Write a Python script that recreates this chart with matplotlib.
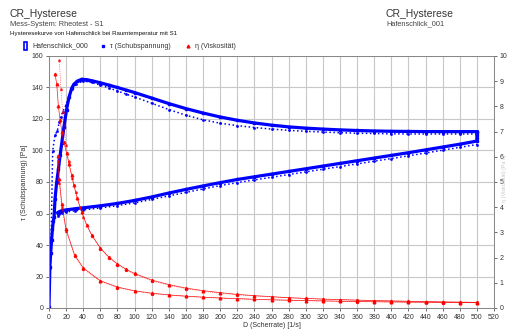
import matplotlib
matplotlib.use("Agg")
import matplotlib.pyplot as plt
from matplotlib.lines import Line2D
from matplotlib.patches import Rectangle

plt.rcParams['font.family'] = ['Liberation Sans', 'DejaVu Sans']

# --- data ---------------------------------------------------------------
# run A (bold markers), ramp up
d_up_a = [0, 1, 2, 3, 4, 5, 6, 7, 9, 11, 13, 15, 17.5, 20.5, 23.5, 26.5, 29, 33, 38, 44,
          50, 60, 70, 80, 90, 100, 120, 140, 160, 180, 200, 220, 240, 260, 280, 300,
          320, 340, 360, 380, 400, 420, 440, 460, 480, 500]
tau_up_a = [0.5, 26, 35, 43, 50, 55, 58, 69, 80, 88, 97, 105, 115, 126, 134, 139.5, 142, 144, 145.2, 145,
            144.3, 143, 141.5, 140, 138.4, 136.8, 133.3, 129.8, 126.6, 123.8, 121.3, 119.2, 117.5, 116.1, 115, 114.2,
            113.6, 113.1, 112.7, 112.4, 112.2, 112.1, 112, 112, 112, 112]
eta_up_a = [9.3, 8.89, 8.0, 7.46, 7.0, 6.57, 6.15, 5.70, 5.26, 4.90, 4.36, 3.82, 3.30,
            2.89, 2.38, 2.02, 1.75, 1.54, 1.37, 1.11, 0.93, 0.79, 0.69, 0.61, 0.54, 0.49, 0.45, 0.41, 0.38,
            0.355, 0.333, 0.313, 0.296, 0.281, 0.267, 0.255, 0.243, 0.233, 0.224]   # from D = 7

# run A, ramp down (last points: the hold at 500 1/s)
d_dn_a = [10, 12, 15, 20, 30, 40, 60, 80, 100, 120, 140, 160, 180, 200, 220, 240, 260, 280, 300, 320,
          340, 360, 380, 400, 420, 440, 460, 480, 500, 500, 500, 500]
tau_dn_a = [60.5, 61.2, 61.8, 62.3, 63, 63.6, 64.9, 66.4, 68.3, 70.5, 73, 75.3, 77.5, 79.6, 81.6, 83.3, 85, 86.7, 88.4, 90.1,
            91.8, 93.5, 95.2, 96.9, 98.6, 100.4, 102.2, 104, 106, 108, 110, 112]
eta_dn_a = [6.05, 5.10, 4.12, 3.12, 2.10, 1.59, 1.08, 0.83, 0.683, 0.588, 0.521, 0.471, 0.431, 0.398, 0.371,
            0.347, 0.327, 0.310, 0.295, 0.282, 0.270, 0.260, 0.251, 0.242, 0.235, 0.228, 0.222, 0.217, 0.212]

# run B (small markers), ramp up
d_up_b = [0, 1.2, 2.2, 4.3, 7, 9.7, 12, 14, 16, 19.9, 23, 27, 31, 36, 40, 50, 60, 70, 80, 90,
          100, 120, 140, 160, 180, 200, 220, 240, 260, 280, 300, 320, 340, 360, 380, 400, 420, 440, 460, 480, 500]
tau_up_b = [0.5, 25.6, 34.7, 99.7, 109.8, 112.5, 118, 121.5, 124.6, 128.9, 134, 139, 142.5, 144.3, 144.2, 143.2, 141.5, 139.7, 137.8, 135.8,
            134, 130, 126, 122.4, 119.5, 117.3, 115.8, 114.6, 113.6, 112.8, 112.2, 111.7, 111.3, 111, 110.8, 110.6,
            110.5, 110.5, 110.5, 110.5, 110.5]
eta_up_b = [9.83, 8.68, 7.79, 6.48, 5.83, 5.15, 4.60, 4.01, 3.61, 2.86, 2.36, 2.00, 1.72, 1.51, 1.34, 1.08, 0.90,
            0.765, 0.664, 0.587, 0.526, 0.478, 0.437, 0.403, 0.374, 0.349, 0.327, 0.308, 0.292, 0.277, 0.263,
            0.251, 0.240, 0.230, 0.221]   # from D = 12

# run B, ramp down
d_dn_b = d_dn_a
tau_dn_b = [58.5, 59.5, 60.3, 61, 61.7, 62.3, 63.5, 65, 66.8, 68.9, 71.2, 73.4, 75.6, 77.7, 79.6, 81.3, 83, 84.7, 86.4, 88.1,
            89.8, 91.5, 93.2, 94.9, 96.6, 98.4, 100.2, 102, 103.8, 106, 108, 110]
eta_dn_b = [5.85, 4.96, 4.02, 3.05, 2.06, 1.56, 1.06, 0.81, 0.668, 0.574, 0.509, 0.459, 0.42, 0.389, 0.362,
            0.339, 0.319, 0.303, 0.288, 0.275, 0.264, 0.254, 0.245, 0.237, 0.23, 0.224, 0.218, 0.213, 0.208]

x_ticks = list(range(0, 521, 20))
y_ticks = list(range(0, 161, 20))
y2_ticks = list(range(0, 11))

BLUE = "#0000ff"
RED = "#ff0000"
GRID = "#c8c8c8"
TXT = "#333333"

fig = plt.figure(figsize=(5.1, 3.31), dpi=100)
W, H = 510, 331
ax = fig.add_axes([49 / W, 1 - 308 / H, (494 - 49) / W, (308 - 56) / H])

# tau on left axis
ax.plot(d_up_a, tau_up_a, color=BLUE, marker="s", ms=2.0, lw=2.3, zorder=3)
ax.plot(d_dn_a, tau_dn_a, color=BLUE, marker="s", ms=2.0, lw=2.3, zorder=3)
ax.plot(d_up_b, tau_up_b, color=BLUE, marker="s", ms=0.9, lw=1.1, ls=":", zorder=3)
ax.plot(d_dn_b, tau_dn_b, color=BLUE, marker="s", ms=0.9, lw=1.1, ls=":", zorder=3)

ax.set_xlim(0, 520)
ax.set_ylim(0, 160)
ax.set_xticks(x_ticks)
ax.set_yticks(y_ticks)
ax.grid(True, color=GRID, lw=0.8)
ax.set_axisbelow(True)
ax.tick_params(labelsize=5, length=2.5, width=0.6, color="#555555", pad=1.5, labelcolor=TXT)
for s in ax.spines.values():
    s.set_color("#888888")
    s.set_linewidth(0.7)
ax.set_xlabel("D (Scherrate) [1/s]", fontsize=5, color=TXT, labelpad=1)
ax.set_ylabel("τ (Schubspannung) [Pa]", fontsize=5, color=TXT, labelpad=3)

# eta on right axis
ax2 = ax.twinx()
ax2.plot(d_up_a[7:], eta_up_a, color=RED, marker="^", ms=1.9, lw=0.5, alpha=0.9, zorder=4)
ax2.plot(d_dn_a[:29], eta_dn_a, color=RED, marker="^", ms=1.9, lw=0.5, alpha=0.9, zorder=4)
ax2.plot(d_up_b[6:], eta_up_b, color=RED, marker="^", ms=1.3, lw=0.5, ls=":", alpha=0.8, zorder=4)
ax2.plot(d_dn_b[:29], eta_dn_b, color=RED, marker="^", ms=1.3, lw=0.5, ls=":", alpha=0.8, zorder=4)
ax2.set_ylim(0, 10)
ax2.set_yticks(y2_ticks)
ax2.tick_params(labelsize=5, length=2.5, width=0.6, color="#555555", pad=1.5, labelcolor=TXT)
for s in ax2.spines.values():
    s.set_color("#888888")
    s.set_linewidth(0.7)
fig.text(505 / W, 1 - 178 / H, "η (Viskosität) [Pa s]", rotation=90, fontsize=4,
         color="#c8c8c8", ha="center", va="center")

# header texts
fig.text(10 / W, 1 - 14 / H, "CR_Hysterese", fontsize=7.5, color=TXT, va="center")
fig.text(10 / W, 1 - 24 / H, "Mess-System: Rheotest - S1", fontsize=5.3, color="#444444", va="center")
fig.text(10 / W, 1 - 33.5 / H, "Hysteresekurve von Hafenschlick bei Raumtemperatur mit S1",
         fontsize=4.4, color="#111111", va="center")
fig.text(386 / W, 1 - 14 / H, "CR_Hysterese", fontsize=7.5, color=TXT, va="center")
fig.text(386 / W, 1 - 24 / H, "Hafenschlick_001", fontsize=5.3, color="#444444", va="center")

# legend row
ly = 1 - 46 / H
fig.add_artist(Rectangle((23.5 / W, ly - 3.5 / H), 3.5 / W, 7 / H, transform=fig.transFigure,
                         facecolor="white", edgecolor=BLUE, lw=1.2))
fig.text(32 / W, ly, "Hafenschlick_000", fontsize=5, color=TXT, va="center")
fig.add_artist(Line2D([103 / W], [ly], transform=fig.transFigure, marker="s", ms=2,
                      color=BLUE, ls="none"))
fig.text(110 / W, ly, "τ (Schubspannung)", fontsize=5, color=TXT, va="center")
fig.add_artist(Line2D([188 / W], [ly], transform=fig.transFigure, marker="^", ms=2,
                      color=RED, ls="none"))
fig.text(195 / W, ly, "η (Viskosität)", fontsize=5, color=TXT, va="center")

fig.savefig("out.png", dpi=100)
